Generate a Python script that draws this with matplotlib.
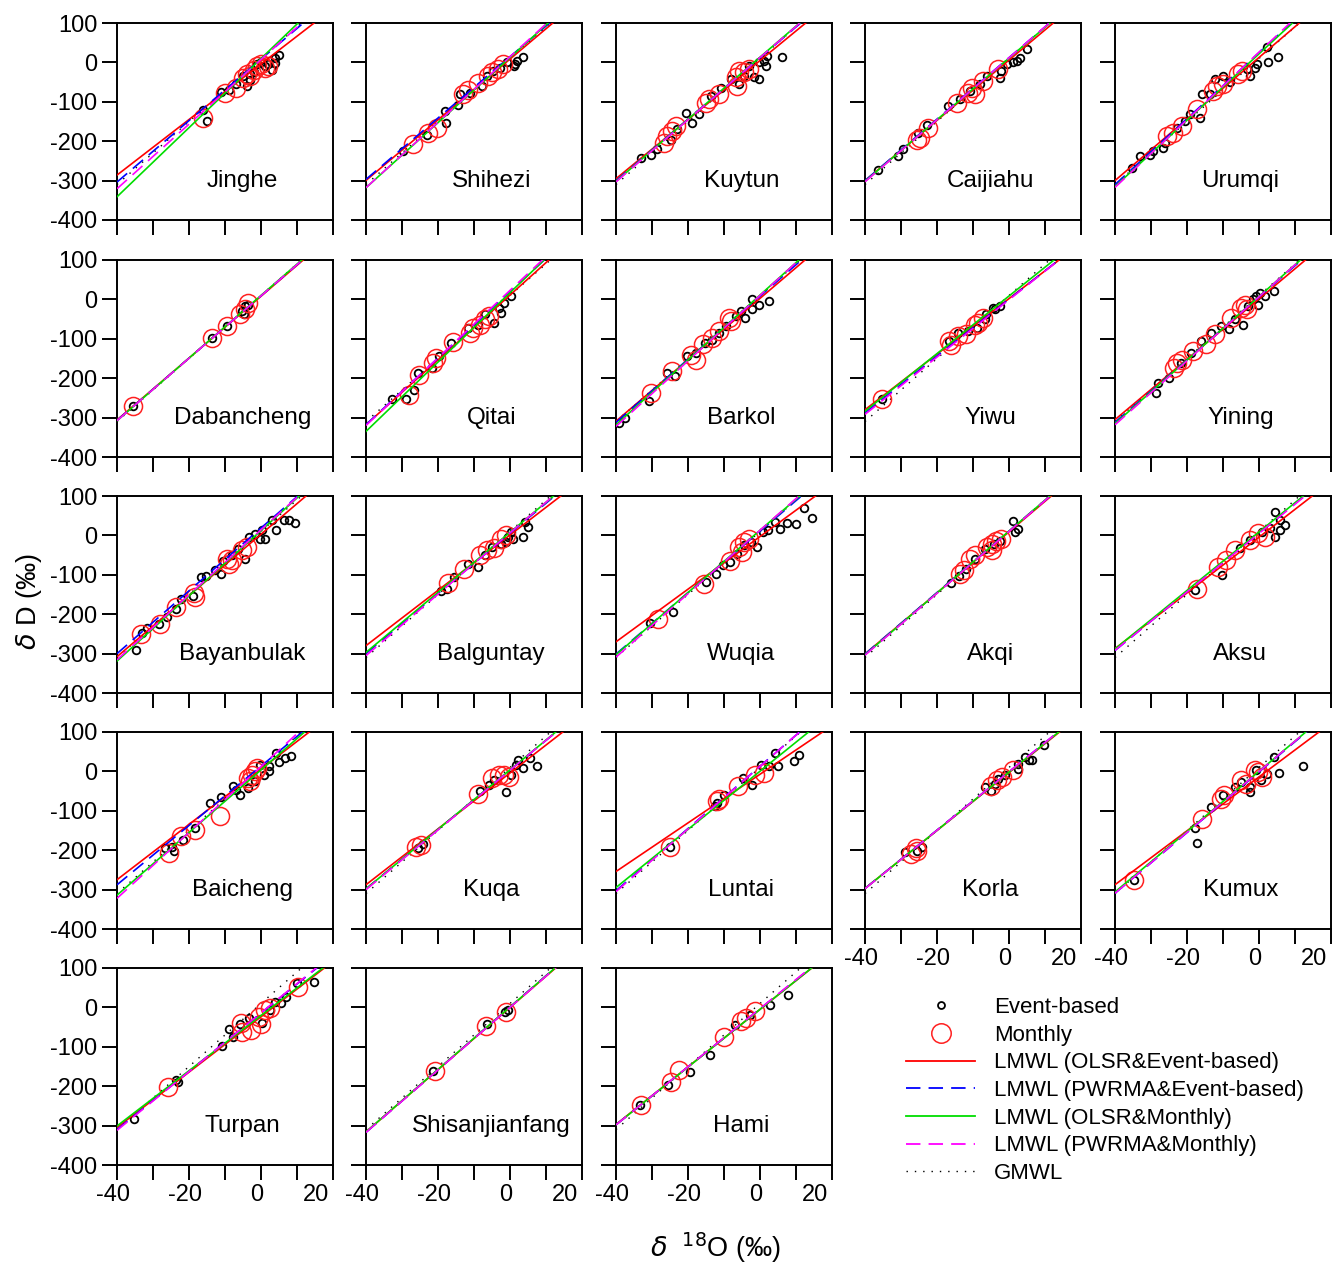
import matplotlib
matplotlib.use("Agg")
import matplotlib.pyplot as plt
import matplotlib.transforms as mtransforms
from matplotlib.lines import Line2D
import numpy as np

plt.rcParams["font.family"] = ["Liberation Sans", "DejaVu Sans"]

stations = [
    "Jinghe", "Shihezi", "Kuytun", "Caijiahu", "Urumqi",
    "Dabancheng", "Qitai", "Barkol", "Yiwu", "Yining",
    "Bayanbulak", "Balguntay", "Wuqia", "Akqi", "Aksu",
    "Baicheng", "Kuqa", "Luntai", "Korla", "Kumux",
    "Turpan", "Shisanjianfang", "Hami",
]

# event-based samples (d18O, dD)
event_pts = {
    "Jinghe": [(-16, -120), (-15, -148), (-11, -75), (-9, -70), (-7, -55), (-5, -35),
               (-4, -60), (-3, -45), (-3, -30), (-2, -25), (-1, -5), (0, 0), (1, -10),
               (2, -5), (3, -20), (4, -2), (4, 10), (5, 20)],
    "Shihezi": [(-29.6, -225), (-23, -183), (-18, -124), (-17.8, -154), (-14.4, -107),
                (-13.9, -81), (-11, -77), (-7.9, -60), (-6.5, -34), (-4.6, -21),
                (-2.8, -13), (-0.9, 0), (1, -8), (1.4, -4), (1.9, 4), (3.7, 13)],
    "Kuytun": [(-33.1, -242), (-30.4, -234), (-28.5, -221), (-24.8, -196), (-23, -170),
               (-20.6, -128), (-18.8, -153), (-17, -132), (-13.7, -86), (-10.9, -64),
               (-8.1, -43), (-5.8, -56), (-4.4, -34), (-3, -8), (-1.7, -38), (-0.3, 0),
               (1.1, 4), (1.6, -8), (-0.3, -42), (2, 17), (6.2, 13)],
    "Caijiahu": [(-36.3, -272), (-30.7, -238), (-29.4, -221), (-25.2, -179), (-22.9, -158),
                 (-16.9, -111), (-13.6, -94), (-10.9, -73), (-8.1, -56), (-6.2, -35),
                 (-2.5, -39), (-2.1, -21), (-0.6, -5), (1.2, 0), (2.1, 4), (3.1, 12), (4.9, 34)],
    "Urumqi": [(-35.4, -268), (-33.1, -238), (-30.3, -234), (-29.4, -225), (-26.6, -217),
               (-26.1, -204), (-22.9, -166), (-20.6, -149), (-19.2, -132), (-16.4, -141),
               (-15.9, -81), (-13.6, -81), (-12.2, -42), (-9.9, -34), (-8.1, -51),
               (-3.4, -17), (-2.5, -34), (-1.1, -13), (-0.6, -4), (2.1, 38), (2.6, 0), (5.4, 13)],
    "Dabancheng": [(-35.6, -270), (-13.6, -97), (-9.4, -68), (-5.3, -30), (-4.8, -38),
                   (-4.4, -17), (-3.5, -13)],
    "Qitai": [(-32.7, -254), (-29, -252), (-26.8, -229), (-25.5, -186), (-21.8, -174),
              (-19.6, -144), (-16.3, -110), (-11.6, -72), (-9, -64), (-7, -38), (-4.4, -59),
              (-3.1, -21), (-2.4, -34), (-1.7, -8), (0.2, 8)],
    "Barkol": [(-39.3, -314), (-37.4, -301), (-30.9, -258), (-25.7, -186), (-23.7, -195),
               (-20.4, -144), (-17.8, -136), (-15.2, -110), (-13.3, -102), (-11.3, -85),
               (-9.4, -68), (-6.8, -42), (-5.4, -30), (-4.1, -47), (-2.2, 0), (-2.2, -25),
               (-0.2, -13), (2.4, -4)],
    "Yiwu": [(-35.3, -252), (-16.6, -106), (-14.2, -85), (-11.4, -81), (-9, -72),
             (-6.7, -51), (-6.3, -38), (-4.4, -21), (-3.9, -25), (-2.5, -17)],
    "Yining": [(-28.7, -237), (-28, -212), (-25, -199), (-21.7, -161), (-18.9, -136),
               (-16.1, -106), (-13.3, -85), (-10.5, -68), (-8.2, -76), (-6.7, -51),
               (-4.4, -64), (-3, -17), (-1.6, 0), (-0.7, 8), (-0.2, -13), (0.3, 17),
               (1.7, 8), (4.1, 21)],
    "Bayanbulak": [(-34.8, -292), (-33, -247), (-31.6, -234), (-28.3, -225), (-26, -208),
                   (-23.6, -186), (-22.2, -161), (-18.9, -153), (-16.6, -106), (-15.2, -102),
                   (-12.8, -89), (-11, -98), (-10.5, -64), (-8.1, -51), (-6.3, -34),
                   (-4.4, -59), (-3.4, -4), (-1.6, 4), (-0.2, -8), (0.3, 13), (1.2, -8),
                   (3.1, 38), (4.1, 13), (6.4, 38), (7.8, 40), (9.4, 31)],
    "Balguntay": [(-19.3, -140), (-17.6, -136), (-15.6, -106), (-11.7, -72), (-9, -81),
                  (-7, -51), (-5, -30), (-2.4, -21), (-1.1, -17), (-0.5, -4), (0.2, 8),
                  (0.9, -8), (3.5, -4), (4.2, 34), (4.9, 21)],
    "Wuqia": [(-30.5, -222), (-24.2, -195), (-14.9, -119), (-12.3, -97), (-10.3, -76),
              (-8.3, -68), (-6.4, -47), (-4.4, -25), (-2.4, -17), (-0.7, -30), (0.9, 8),
              (2.2, 13), (4.2, 34), (5.5, 17), (7.5, 32), (10.1, 30), (12.1, 69), (14.5, 44)],
    "Akqi": [(-16.1, -120), (-13.9, -102), (-11.9, -85), (-9.4, -59), (-6.8, -34),
             (-4.1, -21), (-2.6, -13), (1.1, 36), (1.7, 8), (2.4, 17)],
    "Aksu": [(-17.8, -139), (-10.3, -100), (-5.3, -32), (-2.5, -12), (0.8, 9), (3, 19),
             (4.4, -4), (4.4, 59), (5.8, 39), (5.8, 14), (7.2, 26)],
    "Baicheng": [(-26.8, -195), (-24.8, -191), (-24.2, -202), (-21.6, -174), (-18.2, -144),
                 (-14.3, -81), (-11, -64), (-7.7, -38), (-7, -47), (-5.7, -59), (-3.7, -42),
                 (-1.7, -25), (-0.4, 17), (0.9, -8), (2.2, 0), (2.2, 13), (4.2, 47),
                 (4.9, 25), (6.8, 34), (8.2, 38)],
    "Kuqa": [(-25.5, -195), (-24.2, -185), (-8.3, -51), (-5.7, -34), (-4.4, -21),
             (-1.1, -53), (0.2, -8), (1.6, 17), (2.2, 30), (3.5, 8), (5.5, 34), (7.5, 13)],
    "Luntai": [(-25, -191), (-12.6, -89), (-12, -81), (-10, -59), (-4.8, -17), (-2.2, -34),
               (0.4, 17), (2.4, 13), (4.3, 47), (5, 13), (9.5, 27), (10.8, 42)],
    "Korla": [(-28.8, -205), (-25.5, -201), (-24.1, -192), (-6.7, -40), (-4.9, -49),
              (-3.9, -31), (-3, -19), (-1.1, -10), (2.6, 7), (2.6, 19), (4.5, 36),
              (5.5, 28), (6.4, 30), (9.7, 66)],
    "Kumux": [(-34.8, -275), (-17.8, -143), (-17.3, -182), (-13.3, -91), (-10, -59),
              (-6.7, -40), (-4.9, -27), (-2.5, -53), (-2.5, -40), (-0.7, 3), (0.6, -23),
              (2.2, -6), (4.3, 36), (5.6, -4), (12.3, 13)],
    "Turpan": [(-35.3, -284), (-23.6, -185), (-23.1, -189), (-10.9, -97), (-9, -56),
               (-7.7, -75), (-5.8, -41), (-3.4, -26), (0.3, -39), (2.6, -7), (3.9, 14),
               (5.5, 10), (6.9, 27), (10.1, 62), (14.8, 65)],
    "Shisanjianfang": [(-21.4, -161), (-6.4, -42), (-1.4, -12), (-0.6, -7)],
    "Hami": [(-33.3, -248), (-25.6, -197), (-19.4, -164), (-13.9, -121), (-6.9, -45),
             (-2.8, -19), (2.8, 6), (7.8, 32)],
}

# monthly weighted means (d18O, dD)
monthly_pts = {
    "Jinghe": [(-16, -140), (-10, -78), (-7, -65), (-5, -40), (-4, -30), (-3, -35),
               (-2, -20), (-1, -10), (0, -5), (1, -15), (2, -10)],
    "Shihezi": [(-26.9, -207), (-22.7, -179), (-20.4, -166), (-13, -81), (-11.6, -69),
                (-8.8, -52), (-6, -35), (-5.1, -25), (-3.2, -17), (-1.9, -4)],
    "Kuytun": [(-26.7, -204), (-25.7, -187), (-24.4, -175), (-23.4, -162), (-15.1, -102),
               (-14.2, -94), (-11.4, -81), (-6.8, -38), (-6.3, -59), (-5.8, -21),
               (-4.4, -25), (-3, -17)],
    "Caijiahu": [(-25.6, -196), (-24.7, -192), (-22.4, -166), (-14.5, -103), (-11.3, -77),
                 (-10.4, -64), (-9.4, -81), (-7.1, -47), (-3, -17)],
    "Urumqi": [(-25.6, -187), (-23.8, -179), (-21.5, -162), (-17.3, -119), (-12.7, -73),
               (-11.8, -60), (-9.9, -56), (-5.7, -30), (-4.8, -21)],
    "Dabancheng": [(-35.6, -270), (-13.6, -97), (-9.4, -68), (-5.7, -38), (-4.4, -25),
                   (-3.7, -8)],
    "Qitai": [(-28.1, -242), (-25.2, -191), (-21.5, -161), (-20.5, -148), (-15.9, -109),
              (-11, -85), (-10.3, -72), (-8.3, -64), (-7, -51), (-5.7, -43)],
    "Barkol": [(-30.2, -237), (-24.4, -182), (-19.1, -140), (-17.8, -153), (-15.9, -114),
               (-13.3, -97), (-11.3, -80), (-8.7, -47), (-8.1, -55)],
    "Yiwu": [(-35.3, -252), (-16.6, -106), (-16.1, -115), (-14.2, -93), (-11.9, -89),
             (-9.5, -64), (-8.6, -59), (-7.2, -47)],
    "Yining": [(-23.6, -174), (-22.7, -161), (-21.3, -153), (-18.4, -131), (-14.7, -114),
               (-12.3, -89), (-7.7, -47), (-4.9, -21), (-3.9, -13), (-3.4, -25)],
    "Bayanbulak": [(-33.4, -249), (-28, -225), (-23.6, -181), (-18.6, -145), (-18.4, -156),
                   (-9.5, -59), (-9, -72), (-8.1, -63), (-5.3, -38), (-3.9, -30)],
    "Balguntay": [(-17.2, -120), (-12.7, -85), (-8.3, -51), (-6.4, -38), (-4.4, -32),
                  (-2.4, -8), (-1.1, 0)],
    "Wuqia": [(-28.4, -212), (-15.6, -123), (-8.3, -64), (-5.7, -30), (-5, -42),
              (-4.4, -17), (-3.1, -8)],
    "Akqi": [(-13.5, -97), (-12.6, -89), (-10.7, -59), (-9.4, -51), (-6.1, -30),
             (-4.8, -21), (-4.8, -38), (-3.5, -13), (-2.2, -8)],
    "Aksu": [(-17.2, -136), (-11.4, -80), (-9.2, -62), (-6.7, -37), (-2.5, -12),
             (-0.3, 5), (1.7, -4)],
    "Baicheng": [(-25.5, -208), (-22.2, -165), (-18.2, -148), (-11.4, -114), (-3.7, -17),
                 (-3.1, -25), (-2.4, -8), (-1.7, 0), (-1.1, 8)],
    "Kuqa": [(-26.1, -193), (-24.8, -186), (-9, -58), (-5, -17), (-3.1, -8), (-1.7, -8),
             (-0.4, -13)],
    "Luntai": [(-25, -191), (-12, -76), (-11.3, -69), (-6.1, -38), (-1.5, -8), (1.1, -4)],
    "Korla": [(-27.3, -209), (-25.9, -195), (-25.5, -201), (-4.9, -36), (-3.4, -23),
              (-2, -14), (1.2, 3)],
    "Kumux": [(-34.8, -275), (-15.8, -120), (-10.5, -69), (-9.7, -61), (-4.9, -23),
              (-3.5, -31), (-1.1, 3), (-0.2, -2), (0.9, -14)],
    "Turpan": [(-25.7, -203), (-5.5, -39), (-5.3, -62), (-2.7, -58), (-0.6, -24),
               (0.1, -41), (1.2, -7), (2.5, -1), (10.4, 53)],
    "Shisanjianfang": [(-20.8, -161), (-6.7, -47), (-1.1, -12)],
    "Hami": [(-33.1, -248), (-24.7, -189), (-22.5, -159), (-10, -75), (-5.3, -35),
             (-3.9, -27), (-1.4, -9)],
}

# LMWL fits (slope, intercept)
olsr_event = {
    "Jinghe": (7.05, -4), "Shihezi": (7.7, 8.4), "Kuytun": (7.5, 4.8), "Caijiahu": (7.65, 5.9),
    "Urumqi": (7.81, 12.5), "Dabancheng": (7.85, 8), "Qitai": (8.23, 11), "Barkol": (7.79, 2.6),
    "Yiwu": (7.05, 2), "Yining": (7.66, 1.2), "Bayanbulak": (7.77, 2.9), "Balguntay": (7.02, 1),
    "Wuqia": (6.68, -2.9), "Akqi": (7.75, 9), "Aksu": (7.07, -4.6), "Baicheng": (7.02, 5.9),
    "Kuqa": (7.09, -4), "Luntai": (6.17, -7.3), "Korla": (7.35, -3), "Kumux": (6.84, -14),
    "Turpan": (7.03, -23.7), "Shisanjianfang": (7.9, 0), "Hami": (7.3, -5),
}
pwrma_event = {
    "Jinghe": (7.8, 8.3), "Shihezi": (7.78, 14.4), "Kuytun": (7.8, 11.9), "Caijiahu": (7.8, 12),
    "Urumqi": (8.37, 24.6), "Dabancheng": (7.9, 9), "Qitai": (8.44, 19.8), "Barkol": (8.0, 8),
    "Yiwu": (7.21, 0.5), "Yining": (7.95, 6), "Bayanbulak": (7.97, 18.7), "Balguntay": (7.63, 5.4),
    "Wuqia": (7.79, 10.4), "Akqi": (7.8, 11), "Aksu": (7.47, 6.7), "Baicheng": (7.53, 13.4),
    "Kuqa": (7.54, 3.5), "Luntai": (7.9, 13), "Korla": (7.4, -1), "Kumux": (7.69, -1.5),
    "Turpan": (7.39, -14.5), "Shisanjianfang": (7.95, 1), "Hami": (7.35, -4),
}
olsr_monthly = {
    "Jinghe": (8.77, 9.7), "Shihezi": (8.26, 12.4), "Kuytun": (7.88, 13.3), "Caijiahu": (7.82, 10.9),
    "Urumqi": (8.42, 21.7), "Dabancheng": (7.95, 10), "Qitai": (8.8, 17), "Barkol": (8.23, 11),
    "Yiwu": (7.31, 8.6), "Yining": (8.06, 7.3), "Bayanbulak": (8.28, 12.2), "Balguntay": (7.62, 7.8),
    "Wuqia": (7.9, 13), "Akqi": (7.85, 11), "Aksu": (7.42, 8.7), "Baicheng": (7.95, 3.8),
    "Kuqa": (7.55, 4), "Luntai": (7.38, 0.4), "Korla": (7.38, -2), "Kumux": (7.66, 0.4),
    "Turpan": (7.01, -20.6), "Shisanjianfang": (7.92, 1), "Hami": (7.32, -5),
}
pwrma_monthly = {
    "Jinghe": (8.2, 7.3), "Shihezi": (8.31, 14.4), "Kuytun": (7.89, 12.4), "Caijiahu": (7.87, 11.8),
    "Urumqi": (8.58, 26), "Dabancheng": (7.92, 9), "Qitai": (8.57, 22.9), "Barkol": (8.31, 10),
    "Yiwu": (7.27, -1), "Yining": (8.12, 6.6), "Bayanbulak": (8.25, 14.2), "Balguntay": (7.79, 6.5),
    "Wuqia": (8.05, 13), "Akqi": (7.85, 10), "Aksu": (7.42, 5), "Baicheng": (8.36, 12.2),
    "Kuqa": (7.58, 3), "Luntai": (7.94, 12.6), "Korla": (7.42, -1), "Kumux": (7.72, -0.4),
    "Turpan": (7.45, -14), "Shisanjianfang": (7.93, 0), "Hami": (7.38, -3),
}
gmwl = (8.0, 10.0)

x_ticks = [-40, -30, -20, -10, 0, 10, 20]
x_labels = ["-40", "", "-20", "", "0", "", "20"]
y_ticks = [-400, -300, -200, -100, 0, 100]

W, H = 1335, 1264
fig = plt.figure(figsize=(W / 100, H / 100), dpi=100)

col_left = [117, 366, 616, 865, 1115]
row_top = [23, 260, 496, 732, 968]
ax_w, ax_h = 216, 197

dash = (0, (8, 4.5))
xs = np.array([-40.0, 20.0])
nudge_left = mtransforms.ScaledTranslation(-4 / 100, 0, fig.dpi_scale_trans)

for i, name in enumerate(stations):
    r, c = divmod(i, 5)
    ax = fig.add_axes([col_left[c] / W, 1 - (row_top[r] + ax_h) / H, ax_w / W, ax_h / H])

    ax.plot(xs, gmwl[0] * xs + gmwl[1], color="black", ls=(0, (1, 5)), lw=1.0, zorder=1)
    ev = np.array(event_pts[name])
    mo = np.array(monthly_pts[name])
    ax.plot(ev[:, 0], ev[:, 1], "o", ms=5.5, mfc="none", mec="black", mew=1.3, zorder=2)
    ax.plot(mo[:, 0], mo[:, 1], "o", ms=13, mfc="none", mec="#ff2020", mew=1.1, zorder=3)

    for fit, col, ls in [(olsr_event, "#ff0000", "-"), (pwrma_event, "#0000ff", dash),
                         (olsr_monthly, "#00dd00", "-"), (pwrma_monthly, "#ff00ff", dash)]:
        k, b = fit[name]
        ax.plot(xs, k * xs + b, color=col, ls=ls, lw=1.2, zorder=4)

    ax.set_xlim(-40, 20)
    ax.set_ylim(-400, 100)
    ax.set_xticks(x_ticks)
    ax.set_yticks(y_ticks)
    ax.tick_params(direction="out", length=11, width=1.4, labelsize=17, pad=3)
    for s in ax.spines.values():
        s.set_linewidth(1.4)

    if c == 0:
        ax.set_yticklabels([str(v) for v in y_ticks])
    else:
        ax.set_yticklabels([])
    if r == 4 or (r == 3 and c >= 3):
        ax.set_xticklabels(x_labels)
        for lab in ax.get_xticklabels():
            lab.set_transform(lab.get_transform() + nudge_left)
        ax.get_xticklabels()[-1].set_ha("right")
    else:
        ax.set_xticklabels([])

    ax.text(0.58, 0.2, name, transform=ax.transAxes, ha="center", va="center", fontsize=17.5)

fig.text(29 / W, 1 - 602 / H, r"$\delta$ D (‰)", rotation=90, ha="center", va="center", fontsize=19.5)
fig.text(716 / W, 1 - 1248 / H, r"$\delta$  $^{18}$O (‰)", ha="center", va="center", fontsize=19.5)

handles = [
    Line2D([], [], ls="none", marker="o", ms=5, mfc="none", mec="black", mew=1.3),
    Line2D([], [], ls="none", marker="o", ms=14, mfc="none", mec="#ff2020", mew=1.1),
    Line2D([], [], color="#ff0000", lw=1.3),
    Line2D([], [], color="#0000ff", lw=1.3, ls=dash),
    Line2D([], [], color="#00dd00", lw=1.3),
    Line2D([], [], color="#ff00ff", lw=1.3, ls=dash),
    Line2D([], [], color="black", lw=1.0, ls=(0, (1, 5))),
]
labels = ["Event-based", "Monthly", "LMWL (OLSR&Event-based)", "LMWL (PWRMA&Event-based)",
          "LMWL (OLSR&Monthly)", "LMWL (PWRMA&Monthly)", "GMWL"]
fig.legend(handles, labels, loc="upper left", bbox_to_anchor=(895 / W, 1 - 986 / H),
           frameon=False, fontsize=16, handlelength=3.1, handletextpad=0.85,
           labelspacing=0.3, borderpad=0)

fig.savefig("out.png", dpi=100)
